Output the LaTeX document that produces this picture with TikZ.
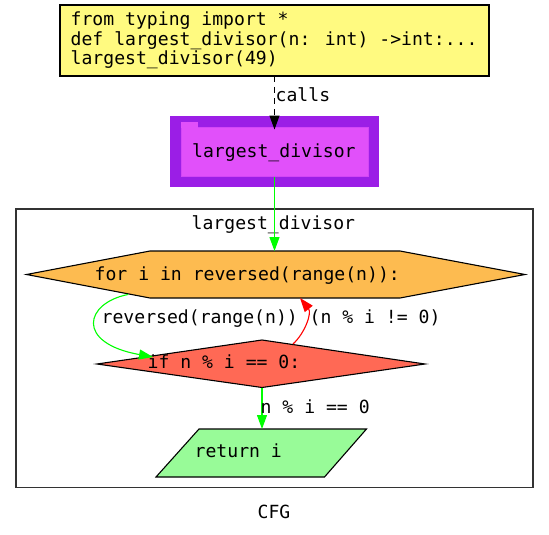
\documentclass[tikz,border=0pt]{standalone}
\usepackage{fontspec}
\setmainfont{DejaVu Sans Mono}
\usetikzlibrary{arrows.meta}
\definecolor{codeyellow}{HTML}{FFFA80}
\definecolor{purpleout}{HTML}{9B1EE6}
\definecolor{purplein}{HTML}{E150FA}
\definecolor{forange}{HTML}{FDBB50}
\definecolor{ifred}{HTML}{FF6955}
\definecolor{retgreen}{HTML}{98FB98}
\definecolor{edgegreen}{HTML}{00FF00}
\definecolor{edgered}{HTML}{FF0000}
\tikzset{
  txt/.style={anchor=base west, inner sep=0pt, font=\fontsize{18.1}{19}\selectfont},
  shapeline/.style={draw=black, line width=1.1pt, line join=miter},
  tip/.style={-{Triangle[length=14pt,width=10pt]}},
  gedge/.style={tip, draw=edgegreen, line width=1.1pt},
  redge/.style={tip, draw=edgered, line width=1.1pt},
  kedge/.style={tip, draw=black, line width=1.1pt, dash pattern=on 6pt off 5pt},
}
\begin{document}
\begin{tikzpicture}[x=1pt,y=-1pt]
\useasboundingbox (0,0) rectangle (549,535);
% top code box
\draw[shapeline, fill=codeyellow] (60,5) rectangle (489,76);
\node[txt] (l1) at (70.5,26) {from typing import *};
\node[txt] (l2) at (70.5,45.5) {def largest\_divisor(n: int) ->int:...};
\node[txt] (l3) at (70.5,65) {largest\_divisor(49)};
\coordinate (codebot) at (274.5,76);
% purple function box
\fill[purpleout] (170,116) rectangle (379,187);
\fill[purplein, draw=purplein!80!purpleout, line width=0.8pt] (181,127) rectangle (368.5,176.5);
\fill[purplein] (181,122) rectangle (198,127.5);
\node[txt] (fn) at (192,157) {largest\_divisor};
\coordinate (fntop) at (274.5,129.5);
\coordinate (fnbot) at (274.5,176.5);
% cluster
\draw[draw=black!80, line width=1.1pt] (16,209) rectangle (533,487.5);
\node[txt] (cl) at (191.5,229) {largest\_divisor};
% hexagon
\draw[shapeline, fill=forange] (26.5,274.5) -- (150,251) -- (400,251) -- (525,274.5) -- (400,298) -- (150,298) -- cycle;
\node[txt] (forn) at (94.5,280) {for i in reversed(range(n)):};
\coordinate (hextop) at (274.5,251);
\coordinate (hexbl) at (128,294.5);
\coordinate (hexbr) at (300,298);
% diamond
\draw[shapeline, fill=ifred] (97,364) -- (262,340) -- (425,364) -- (262,387.5) -- cycle;
\node[txt] (ifn) at (147.5,368) {if n \% i == 0:};
\coordinate (diaml) at (153,357);
\coordinate (diamtr) at (293,344);
\coordinate (diambot) at (262,387.5);
% parallelogram
\draw[shapeline, fill=retgreen] (199,429) -- (366.5,429) -- (324.5,477) -- (156,477) -- cycle;
\node[txt] (ret) at (194.5,457.5) {return i};
\coordinate (rettop) at (262,429);
% edges
\draw[kedge] (codebot) -- (fntop);
\node[txt] (callslbl) at (275.5,101) {calls};
\draw[gedge] (fnbot) -- (hextop);
\draw[gedge] (hexbl) .. controls (85,303) and (75,343) .. (diaml);
\node[txt] (lbl1) at (101.5,323) {reversed(range(n))};
\draw[redge] (diamtr) .. controls (305,333) and (312,313) .. (hexbr);
\node[txt] (lbl2) at (309.5,323) {(n \% i != 0)};
\draw[gedge] (diambot) -- (rettop);
\node[txt] (lbl3) at (260.5,413) {n \% i == 0};
\node[txt] (cfg) at (257.5,518) {CFG};
\end{tikzpicture}
\end{document}
